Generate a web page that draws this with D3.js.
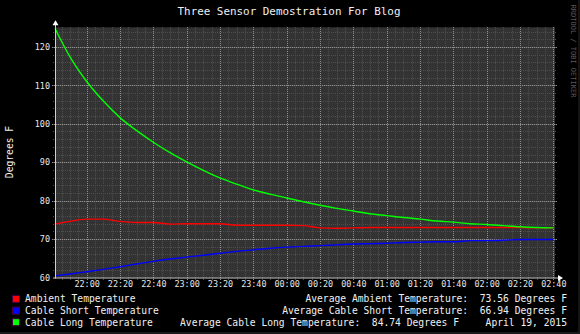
<!DOCTYPE html>
<html>
<head>
<meta charset="utf-8">
<script src="https://cdn.jsdelivr.net/npm/d3@7"></script>
<style>
  html, body { margin: 0; padding: 0; background: #000; }
  svg { display: block; }
  text { font-family: "DejaVu Sans Mono", monospace; white-space: pre; }
</style>
</head>
<body>
<div id="chart"></div>
<script>
// readings, every 10 minutes (first one at 21:41)
var times = ["21:41","21:50","22:00","22:10","22:20","22:30","22:40","22:50","23:00","23:10",
             "23:20","23:30","23:40","23:50","00:00","00:10","00:20","00:30","00:40","00:50",
             "01:00","01:10","01:20","01:30","01:40","01:50","02:00","02:10","02:20","02:30","02:40"];

var ambient = [73.9,74.6,75.2,75.2,74.6,74.3,74.3,73.9,74.0,74.0,
               74.0,73.6,73.6,73.6,73.6,73.5,72.9,72.8,72.9,73.0,
               73.0,73.0,73.0,73.0,73.0,73.0,73.0,73.0,73.0,72.9,72.9];

var cableShort = [60.4,60.9,61.5,62.1,62.8,63.5,64.2,64.8,65.3,65.8,
                  66.3,66.8,67.2,67.6,67.9,68.1,68.3,68.5,68.7,68.8,
                  68.9,69.1,69.2,69.3,69.3,69.6,69.6,69.7,69.9,69.9,69.9];

var cableLong = [124.8,117.4,111.0,105.9,101.6,98.2,95.2,92.5,90.1,87.9,
                 85.9,84.3,82.8,81.7,80.7,79.7,78.8,78.0,77.3,76.6,
                 76.1,75.6,75.2,74.7,74.4,74.0,73.8,73.5,73.2,73.0,72.9];

var seriesNames = ["Ambient Temperature", "Cable Short Temperature", "Cable Long Temperature"];
var seriesColors = ["#ff0000", "#0000ff", "#00ff00"];
var averages = ["Average Ambient Temperature:  73.56 Degrees F",
                "Average Cable Short Temperature:  66.94 Degrees F",
                "Average Cable Long Temperature:  84.74 Degrees F"];
var dateLabel = "April 19, 2015";
var yTicks = [60, 70, 80, 90, 100, 110, 120];

var W = 580, H = 334;
var pL = 55, pR = 555, pT = 27.3, pB = 277.5;

// evening hours belong to the 18th, early morning to the 19th
var parseT = function(s){
    var p = s.split(":").map(Number);
    return new Date(2015, 3, p[0] < 12 ? 19 : 18, p[0], p[1]);
};
var dates = times.map(parseT);

var x = d3.scaleTime()
    .domain([new Date(2015, 3, 18, 21, 41), new Date(2015, 3, 19, 2, 41)])
    .range([pL, pR]);
var y = d3.scaleLinear().domain([60, 125.1]).range([pB, pT]);

var svg = d3.select("#chart").append("svg")
    .attr("width", W).attr("height", H);

svg.append("rect").attr("width", W).attr("height", H).attr("fill", "#000");
// faint frame on right / bottom edge
svg.append("rect").attr("x", W - 2).attr("y", 0).attr("width", 2).attr("height", H).attr("fill", "#141414");
svg.append("rect").attr("x", 0).attr("y", H - 2).attr("width", W).attr("height", 2).attr("fill", "#1a1a1a");

svg.append("rect")
    .attr("x", pL).attr("y", pT)
    .attr("width", pR - pL).attr("height", pB - pT)
    .attr("fill", "#333333");

// grid
var minorX = x.ticks(d3.timeMinute.every(5)),
    majorX = x.ticks(d3.timeMinute.every(20)),
    minorY = d3.range(62, 125, 2);

var grid = svg.append("g").attr("shape-rendering", "crispEdges");
grid.selectAll(".mx").data(minorX).enter().append("line")
    .attr("x1", function(d){ return Math.round(x(d)) + 0.5; })
    .attr("x2", function(d){ return Math.round(x(d)) + 0.5; })
    .attr("y1", pT).attr("y2", pB + 2)
    .attr("stroke", "#4e4e4e").attr("stroke-dasharray", "1,1");
grid.selectAll(".my").data(minorY).enter().append("line")
    .attr("y1", function(d){ return Math.round(y(d)) + 0.5; })
    .attr("y2", function(d){ return Math.round(y(d)) + 0.5; })
    .attr("x1", pL - 2).attr("x2", pR + 2)
    .attr("stroke", "#4e4e4e").attr("stroke-dasharray", "1,1");
grid.selectAll(".Mx").data(majorX).enter().append("line")
    .attr("x1", function(d){ return Math.round(x(d)) + 0.5; })
    .attr("x2", function(d){ return Math.round(x(d)) + 0.5; })
    .attr("y1", pT).attr("y2", pB + 3)
    .attr("stroke", "#8e8e8e").attr("stroke-dasharray", "1,1");
grid.selectAll(".My").data(yTicks.slice(1)).enter().append("line")
    .attr("y1", function(d){ return Math.round(y(d)) + 0.5; })
    .attr("y2", function(d){ return Math.round(y(d)) + 0.5; })
    .attr("x1", pL - 3).attr("x2", pR + 3)
    .attr("stroke", "#8e8e8e").attr("stroke-dasharray", "1,1");

// data lines
var pts = function(vals){ return vals.map(function(v, i){ return [dates[i], v]; }); };
var line = d3.line()
    .curve(d3.curveMonotoneX)
    .x(function(d){ return x(d[0]); })
    .y(function(d){ return y(d[1]); });
[ambient, cableShort, cableLong].forEach(function(vals, i){
    svg.append("path")
        .attr("d", line(pts(vals)))
        .attr("fill", "none")
        .attr("stroke", seriesColors[i])
        .attr("stroke-width", 1.4)
        .attr("stroke-linejoin", "round");
});

// axes
svg.append("line").attr("x1", pL + 0.5).attr("x2", pL + 0.5)
    .attr("y1", pT - 4).attr("y2", pB + 1).attr("stroke", "#d0d0d0");
svg.append("line").attr("x1", pL - 2).attr("x2", pR + 4)
    .attr("y1", pB + 0.5).attr("y2", pB + 0.5).attr("stroke", "#d0d0d0");
svg.append("path").attr("d", "M" + (pL - 2.5) + "," + (pT - 2) + "L" + (pL + 0.5) + "," + (pT - 7) + "L" + (pL + 3.5) + "," + (pT - 2) + "Z")
    .attr("fill", "#fff");
svg.append("path").attr("d", "M" + (pR + 3) + "," + (pB - 2.5) + "L" + (pR + 8) + "," + (pB + 0.5) + "L" + (pR + 3) + "," + (pB + 3.5) + "Z")
    .attr("fill", "#fff");

var xAxis = d3.axisBottom(x)
    .tickValues(majorX)
    .tickFormat(d3.timeFormat("%H:%M"))
    .tickSize(0).tickPadding(0);
var gx = svg.append("g").attr("transform", "translate(0," + (pB + 3) + ")").call(xAxis);
gx.select(".domain").remove();
gx.selectAll("text").attr("fill", "#e8e8e8").attr("font-size", "8.45px")
    .attr("font-family", "DejaVu Sans Mono").attr("dy", "0.71em");

var yAxis = d3.axisLeft(y).tickValues(yTicks).tickSize(0).tickPadding(5);
var gy = svg.append("g").attr("transform", "translate(" + pL + ",0)").call(yAxis);
gy.select(".domain").remove();
gy.selectAll("text").attr("fill", "#e8e8e8").attr("font-size", "8.45px")
    .attr("font-family", "DejaVu Sans Mono");

// titles
svg.append("text").attr("x", 289).attr("y", 15).attr("text-anchor", "middle")
    .attr("fill", "#f0f0f0").attr("font-size", "10.9px")
    .text("Three Sensor Demostration For Blog");
svg.append("text").attr("transform", "translate(12.5,152) rotate(-90)")
    .attr("text-anchor", "middle").attr("fill", "#f0f0f0").attr("font-size", "9.66px")
    .text("Degrees F");
svg.append("text").attr("transform", "translate(571,51) rotate(90)")
    .attr("text-anchor", "middle").attr("fill", "#5a5a5a").attr("font-size", "7px")
    .text("RRDTOOL / TOBI OETIKER");

// legend
var rowY = [299, 310.6, 322.2];
seriesNames.forEach(function(name, i){
    svg.append("rect").attr("x", 12.5).attr("y", rowY[i] - 3.5).attr("width", 7).attr("height", 7)
        .attr("fill", seriesColors[i]).attr("stroke", "#400040").attr("stroke-width", 1);
    svg.append("text").attr("x", 25).attr("y", rowY[i] + 3.4)
        .attr("fill", "#f0f0f0").attr("font-size", "9.66px").text(name);
});
svg.append("text").attr("x", 567).attr("y", rowY[0] + 3.4).attr("text-anchor", "end")
    .attr("fill", "#f0f0f0").attr("font-size", "9.66px").text(averages[0]);
svg.append("text").attr("x", 567).attr("y", rowY[1] + 3.4).attr("text-anchor", "end")
    .attr("fill", "#f0f0f0").attr("font-size", "9.66px").text(averages[1]);
svg.append("text").attr("x", 180).attr("y", rowY[2] + 3.4)
    .attr("fill", "#f0f0f0").attr("font-size", "9.66px").text(averages[2]);
svg.append("text").attr("x", 567).attr("y", rowY[2] + 3.4).attr("text-anchor", "end")
    .attr("fill", "#f0f0f0").attr("font-size", "9.66px").text(dateLabel);
</script>
</body>
</html>
